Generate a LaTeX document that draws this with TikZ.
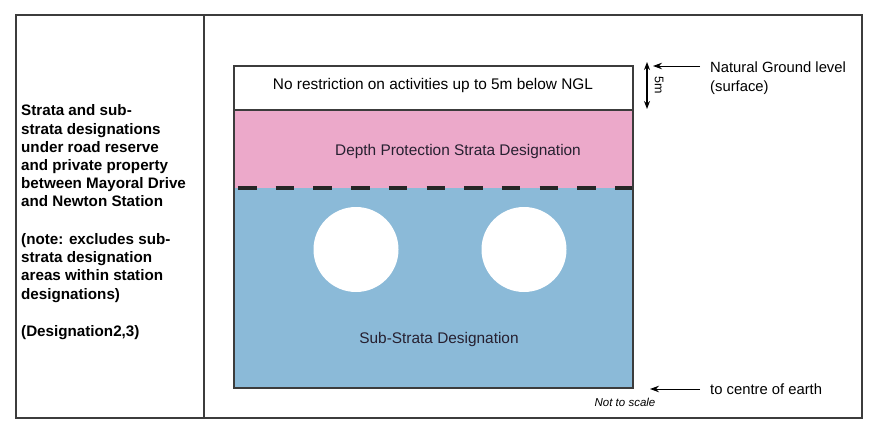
\documentclass[tikz,border=0pt]{standalone}
\usepackage{fontspec}
\setmainfont{Liberation Sans}
\usetikzlibrary{arrows.meta}
\definecolor{pinkstrata}{RGB}{236,169,202}
\definecolor{bluestrata}{RGB}{139,186,216}
\definecolor{framegray}{RGB}{60,60,60}
\definecolor{txtdark}{RGB}{38,32,48}
\tikzset{
  frameline/.style={draw=framegray, line width=1.6pt},
  boxline/.style={draw=framegray, line width=1.2pt},
  lefttext/.style={anchor=base west, inner sep=0pt, font=\fontsize{15.2}{17}\selectfont\bfseries},
  boxtext/.style={inner sep=0pt, text=txtdark, font=\fontsize{15.4}{17}\selectfont},
  righttext/.style={anchor=base west, inner sep=0pt, font=\fontsize{14.8}{17}\selectfont},
  pointer/.style={-{Stealth[length=9pt,width=6.5pt]}, line width=0.9pt},
  tunnel/.style={fill=white, draw=none}
}
\begin{document}
\begin{tikzpicture}[x=1pt,y=-1pt]
\useasboundingbox (0,0) rectangle (876,433);
% outer frame
\draw[frameline] (16,15) rectangle (862,418);
\draw[frameline] (204,15) -- (204,418);
% left text
\node[lefttext] (l1) at (21,116) {Strata and sub-};
\node[lefttext] (l2) at (21,134.2) {strata designations};
\node[lefttext] (l3) at (21,152.4) {under road reserve};
\node[lefttext] (l4) at (21,170.6) {and private property};
\node[lefttext] (l5) at (21,188.8) {between Mayoral Drive};
\node[lefttext] (l6) at (21,207) {and Newton Station};
\node[lefttext] (l7) at (21,244) {(note: excludes sub-};
\node[lefttext] (l8) at (21,262.4) {strata designation};
\node[lefttext] (l9) at (21,280.8) {areas within station};
\node[lefttext] (l10) at (21,299) {designations)};
\node[lefttext] (l11) at (21,336) {(Designation2,3)};
% strata layers
\fill[pinkstrata] (234,110) rectangle (633,188);
\fill[bluestrata] (234,188) rectangle (633,388);
\fill[tunnel] (356,249.5) circle[radius=42.5];
\fill[tunnel] (524,249.5) circle[radius=42.5];
\draw[line width=3.6pt, color=black!85, dash pattern=on 18.5pt off 19.2pt] (238,188) -- (633,188);
\draw[boxline] (234,110) -- (633,110);
\draw[boxline] (234,66) rectangle (633,388);
\node[boxtext, text=black] (t1) at (433,86) {No restriction on activities up to 5m below NGL};
\node[boxtext] (t2) at (458,151.5) {Depth Protection Strata Designation};
\node[boxtext] (t3) at (439,340) {Sub-Strata Designation};
% right annotations
\coordinate (d1) at (647,62);
\coordinate (d2) at (647,109);
\draw[{Stealth[length=8pt,width=6pt]}-{Stealth[length=8pt,width=6pt]}, line width=1.2pt] (d1) -- (d2);
\node[inner sep=0pt, rotate=-90, font=\fontsize{12.5}{14}\selectfont] (five) at (659,85) {5m};
\node[righttext] (ngl) at (710,73) {Natural Ground level};
\node[righttext] (surf) at (710,91.5) {(surface)};
\coordinate (a1) at (700,66);
\coordinate (a1e) at (653,66);
\draw[pointer] (a1) -- (a1e);
\node[righttext] (earth) at (710,394.5) {to centre of earth};
\coordinate (a2) at (700,389);
\coordinate (a2e) at (650,389);
\draw[pointer] (a2) -- (a2e);
\node[inner sep=0pt, font=\fontsize{11.5}{13}\selectfont\itshape] (nts) at (625,402) {Not to scale};
\end{tikzpicture}
\end{document}
